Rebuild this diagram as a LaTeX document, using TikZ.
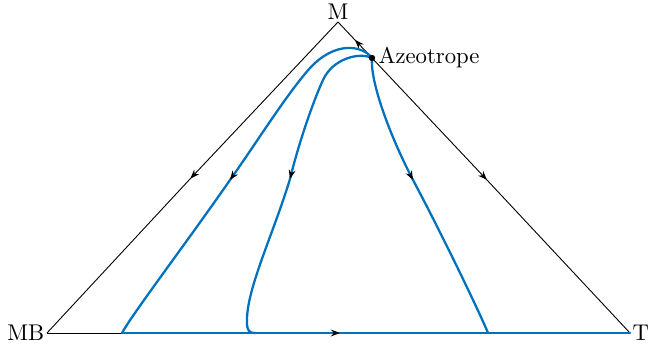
\documentclass[tikz,border=0pt]{standalone}
\usetikzlibrary{arrows.meta,decorations.markings}
\definecolor{curveblue}{RGB}{0,114,189}
\tikzset{
  tipend/.style={postaction={decorate},decoration={markings,mark=at position 1 with {\arrow{Stealth[length=4pt,width=3pt,black]}}}},
  edgeline/.style={black,line width=0.4pt},
  resline/.style={curveblue,line width=1pt,line cap=round},
  lbl/.style={inner sep=1pt}
}
\begin{document}
\begin{tikzpicture}[x=0.44pt,y=-0.44pt]
\useasboundingbox (0,0) rectangle (652,352);
\coordinate (MB) at (47,333);
\coordinate (T) at (630,333);
\coordinate (M) at (338,22);
\coordinate (az) at (372,58);
\coordinate (b1) at (122,333);
\coordinate (b2) at (256,333);
\coordinate (b3) at (488,333);
\coordinate (mbm) at (190,179);
\coordinate (azm) at (355,40);
\coordinate (azt) at (487,180);
\coordinate (bot) at (340,333);
\coordinate (o1) at (230,180);
\coordinate (i1) at (290,179);
\coordinate (r1) at (413,180);
% edges
\draw[edgeline,tipend] (M) -- (mbm);
\draw[edgeline] (mbm) -- (MB);
\draw[edgeline,tipend] (az) -- (azm);
\draw[edgeline] (azm) -- (M);
\draw[edgeline,tipend] (az) -- (azt);
\draw[edgeline] (azt) -- (T);
\draw[edgeline] (MB) -- (b1);
% bottom blue
\draw[resline,tipend] (b1) -- (bot);
\draw[resline] (bot) -- (T);
% outer curve
\draw[resline,tipend] (az) .. controls (362,45) and (335,41) .. (310,68) .. controls (286,95) and (255,145) .. (o1);
\draw[resline] (o1) .. controls (187,242) and (133,313) .. (b1);
% inner curve
\draw[resline,tipend] (az) .. controls (360,52) and (333,58) .. (323,80) .. controls (312,104) and (297.7,147) .. (i1);
\draw[resline] (i1) .. controls (273,235) and (246,290) .. (247,322) .. controls (247,331) and (249,333) .. (b2);
% right curve
\draw[resline,tipend] (az) .. controls (370,80) and (388,132) .. (r1);
\draw[resline] (r1) .. controls (445,240) and (483,320) .. (b3);
% azeotrope dot and labels
\fill (az) circle (1.4pt);
\node[lbl,anchor=west] (azl) at (az) {\,Azeotrope};
\node[lbl,anchor=south] (ml) at (M) {M};
\node[lbl,anchor=east] (mbl) at (MB) {MB};
\node[lbl,anchor=west] (tl) at (T) {T};
\end{tikzpicture}
\end{document}
